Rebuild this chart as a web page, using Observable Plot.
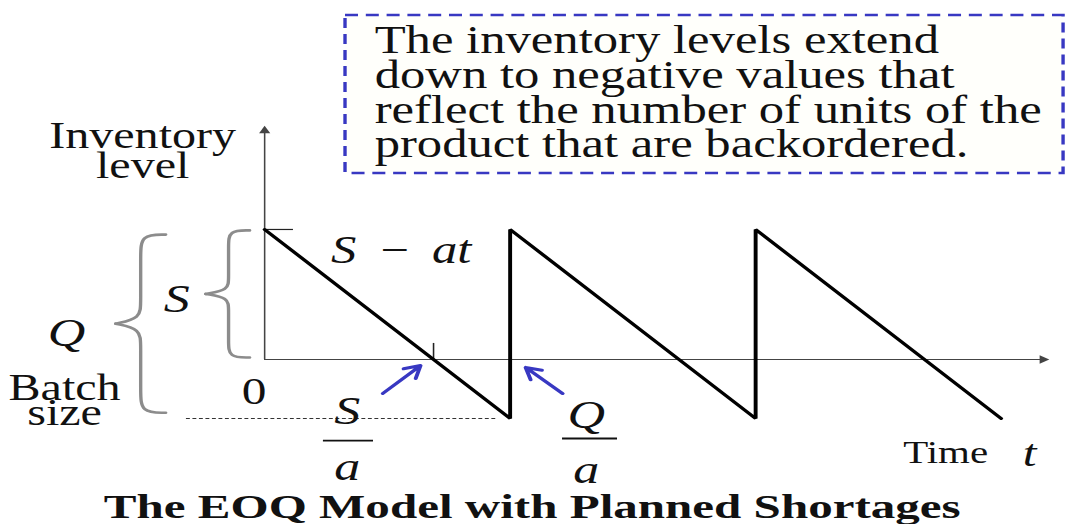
<!DOCTYPE html>
<html><head><meta charset="utf-8">
<script src="https://cdn.jsdelivr.net/npm/d3@7"></script>
<script src="https://cdn.jsdelivr.net/npm/@observablehq/plot@0.6"></script>
<style>html,body{margin:0;padding:0;background:#fff;} #chart svg{display:block;}</style>
</head><body><div id="chart"></div>
<script>
// ---- chart values ----
const Q = 1;                 // batch size (unit)
const S = 0.688;             // max inventory level as a share of Q
const times = [0, 1, 1, 2, 2, 3];               // in units of Q/a
const levels = [S, S - Q, S, S - Q, S, S - Q];  // inventory level
const boxLines = [
  "The inventory levels extend",
  "down to negative values that",
  "reflect the number of units of the",
  "product that are backordered."
];
const yLabelLines = ["Inventory", "level"];
const qLabelLines = ["Batch", "size"];
const titleText = "The EOQ Model with Planned Shortages";
const timeWord = "Time";
const timeSymbol = "t";
const originLabel = "0";
const formulaParts = ["S", "\u2212", "at"];
const fractions = [{num: "S", den: "a"}, {num: "Q", den: "a"}];

// ---- layout ----
const W = 821, H = 524;           // drawn narrow, then stretched to 1067 like the slide
const FONT = "'Liberation Serif', 'Times New Roman', serif";
const INK = "#111";
const BLUE = "#3838c2";

const saw = times.map((t, i) => ({t, level: levels[i]}));

function brace(id, xTip, xBody, xPoint, top, bottom) {
  const mid = (top + bottom) / 2, e = (top - bottom) * 0.12;
  const a = [[xTip, top], [xBody, top], [xBody, top - e], [xBody, mid + e], [xBody, mid + e * 0.25], [xPoint, mid]];
  const b = [[xPoint, mid], [xBody, mid - e * 0.25], [xBody, mid - e], [xBody, bottom + e], [xBody, bottom], [xTip, bottom]];
  return [
    ...a.map(([x, y]) => ({id: id + "a", x, y})),
    ...b.map(([x, y]) => ({id: id + "b", x, y}))
  ];
}
const braces = [
  ...brace("S", -0.061, -0.147, -0.240, S - 0.005, 0.011),
  ...brace("Q", -0.403, -0.505, -0.607, S - 0.027, S - Q + 0.03)
];

const fracPos = [
  {x: 0.336, x1: 0.240, x2: 0.444, numY: -0.339, barY: -0.429, denY: -0.640},
  {x: 1.310, x1: 1.214, x2: 1.438, numY: -0.360, barY: -0.418, denY: -0.656}
];
const fracData = fractions.map((f, i) => ({...f, ...fracPos[i]}));

const arrows = [
  {x1: S - 0.207, y1: -0.18, x2: S - 0.053, y2: -0.032},
  {x1: Q + 0.214, y1: -0.18, x2: Q + 0.063, y2: -0.042}
];

function label(str, x, y, opts = {}) {
  return Plot.text([str], {
    x: () => x, y: () => y, text: d => d,
    fontFamily: FONT, fill: INK, lineAnchor: "bottom", textAnchor: "middle",
    ...opts
  });
}

const plot = Plot.plot({
  width: W, height: H, margin: 0,
  style: {background: "#fff"},
  x: {domain: [-1.0754, 3.271], axis: null},
  y: {domain: [-0.873, 1.8995], axis: null},
  marks: [
    // dashed note box
    Plot.rect([0], {x1: () => 0.330, x2: () => 3.255, y1: () => 0.984, y2: () => 1.820,
      fill: "#fffffb", stroke: BLUE, strokeWidth: 2.6, strokeDasharray: "10,6"}),
    label(boxLines.join("\n"), 0.448, 1.069, {textAnchor: "start", fontSize: 39, lineHeight: 0.89}),

    // axes
    Plot.ruleY([0], {x1: 0, x2: 3.17, stroke: "#444", strokeWidth: 1.2}),
    Plot.ruleX([0], {y1: 0, y2: 1.21, stroke: "#444", strokeWidth: 1.2}),
    Plot.dot([0], {x: () => 3.17, y: () => 0, symbol: "triangle", r: 3.2, rotate: 90, fill: "#444", stroke: "none"}),
    Plot.dot([0], {x: () => 0, y: () => 1.21, symbol: "triangle", r: 3.2, rotate: 0, fill: "#444", stroke: "none"}),
    Plot.ruleY([S], {x1: 0, x2: 0.118, stroke: "#222", strokeWidth: 1.2}),
    Plot.ruleX([S], {y1: 0, y2: 0.085, stroke: "#222", strokeWidth: 1.2}),

    // dotted guide at the lowest level
    Plot.ruleY([S - Q], {x1: -0.318, x2: 0.945, stroke: "#333", strokeWidth: 1, strokeDasharray: "3,2"}),

    // braces
    Plot.line(braces, {x: "x", y: "y", z: "id", curve: "basis", stroke: "#8c8c8c", strokeWidth: 2.6}),

    // inventory sawtooth
    Plot.line(saw, {x: "t", y: "level", stroke: "#000", strokeWidth: 3, strokeLinejoin: "miter"}),

    // blue pointers
    Plot.arrow(arrows, {x1: "x1", y1: "y1", x2: "x2", y2: "y2", stroke: BLUE, strokeWidth: 3, headLength: 9}),

    // labels
    label(yLabelLines.join("\n"), -0.497, 0.958, {fontSize: 37, lineHeight: 0.81}),
    label(qLabelLines.join("\n"), -0.815, -0.349, {fontSize: 37, lineHeight: 0.676}),
    label("S", -0.358, 0.249, {fontSize: 40, fontStyle: "italic"}),
    label("Q", -0.807, 0.074, {fontSize: 40, fontStyle: "italic"}),
    label(originLabel, -0.043, -0.233, {fontSize: 38}),
    label(formulaParts[0], 0.322, 0.508, {fontSize: 39, fontStyle: "italic"}),
    label(formulaParts[1], 0.530, 0.508, {fontSize: 39}),
    label(formulaParts[2], 0.762, 0.508, {fontSize: 39, fontStyle: "italic"}),

    // fractions S/a and Q/a
    Plot.text(fracData, {x: "x", y: "numY", text: "num", fontFamily: FONT, fontSize: 40, fontStyle: "italic", fill: INK, lineAnchor: "bottom"}),
    Plot.ruleY(fracData, {y: "barY", x1: "x1", x2: "x2", stroke: INK, strokeWidth: 1.8}),
    Plot.text(fracData, {x: "x", y: "denY", text: "den", fontFamily: FONT, fontSize: 40, fontStyle: "italic", fill: INK, lineAnchor: "bottom"}),

    label(timeWord, 2.774, -0.550, {fontSize: 31.5}),
    label(timeSymbol, 3.116, -0.561, {fontSize: 38, fontStyle: "italic"}),

    label(titleText, 1.090, -0.836, {fontSize: 34, fontWeight: "bold"})
  ]
});

const svg = plot.tagName.toLowerCase() === "svg" ? plot : plot.querySelector("svg");
svg.setAttribute("viewBox", `0 0 ${W} ${H}`);
svg.setAttribute("preserveAspectRatio", "none");
svg.setAttribute("width", 1067);
svg.setAttribute("height", 524);
svg.style.width = "1067px";
svg.style.height = "524px";
svg.style.maxWidth = "none";

// the slide title is wider than its letter height suggests
const TITLE_STRETCH = 1.11;
svg.querySelectorAll("text").forEach(t => {
  if (t.textContent.trim() !== titleText) return;
  const tr = t.getAttribute("transform") || "";
  if (tr.includes("translate")) {
    t.setAttribute("transform", tr + ` scale(${TITLE_STRETCH},1)`);
  } else {
    const x = +t.getAttribute("x") || 0, y = +t.getAttribute("y") || 0;
    t.removeAttribute("x"); t.removeAttribute("y");
    t.setAttribute("transform", `translate(${x},${y}) scale(${TITLE_STRETCH},1)`);
  }
});
document.getElementById("chart").appendChild(plot);
</script>
</body></html>
